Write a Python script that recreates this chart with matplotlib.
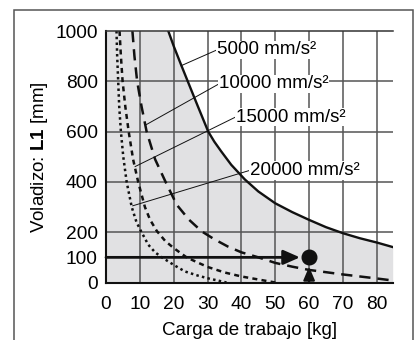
import matplotlib
matplotlib.use("Agg")
import matplotlib.pyplot as plt
from matplotlib.patches import Rectangle

plt.rcParams['font.family'] = ['Liberation Sans', 'DejaVu Sans']
plt.rcParams['mathtext.fontset'] = 'custom'
plt.rcParams['mathtext.rm'] = 'Liberation Sans'
plt.rcParams['mathtext.bf'] = 'Liberation Sans:bold'

# curves: load [kg] vs overhang L1 [mm]
x_5000 = [18.4, 20.0, 22.2, 24.0, 27.0, 30.2, 32.0, 34.0, 37.0, 41.0, 45.0, 50.0, 55.0, 60.0, 65.0, 70.0, 75.0, 80.0, 84.7]
y_5000 = [1000, 940, 865, 805, 705, 600, 560, 522, 468, 410, 362, 315, 280, 249, 220, 196, 176, 159, 141]

x_10000 = [7.8, 8.4, 9.2, 10.5, 12.0, 14.5, 17.6, 20.9, 24.5, 28.3, 32.0, 36.0, 40.0, 45.0, 50.0, 55.0, 60.0, 65.0, 70.0, 75.0, 80.0, 84.7]
y_10000 = [1000, 900, 800, 700, 600, 490, 400, 309, 250, 203, 172, 143, 120, 100, 78, 63, 50, 41, 32, 24, 16, 8]

x_15000 = [4.0, 4.4, 4.9, 5.7, 6.7, 8.0, 9.5, 11.5, 13.0, 15.0, 17.5, 20.0, 23.8, 27.0, 30.0, 35.0, 40.0, 45.0, 50.0]
y_15000 = [1000, 900, 800, 700, 600, 490, 400, 300, 250, 205, 165, 137, 100, 80, 62, 40, 24, 12, 0]

x_20000 = [3.1, 3.3, 3.6, 3.9, 4.4, 5.1, 6.1, 7.6, 9.0, 10.5, 12.5, 14.5, 16.5, 20.0, 23.3, 27.0, 30.0, 33.0, 35.6]
y_20000 = [1000, 900, 800, 700, 600, 500, 400, 300, 240, 200, 150, 120, 100, 70, 44, 28, 17, 8, 0]

labels = ['5000 mm/s²', '10000 mm/s²', '15000 mm/s²', '20000 mm/s²']
label_xy = [(32.8, 925), (33.4, 790), (38.3, 658), (42.5, 446)]
leader_from = [(22.2, 862), (11.8, 627), (8.6, 461), (7.9, 305)]

x_ticks = [0, 10, 20, 30, 40, 50, 60, 70, 80]
y_ticks = [0, 100, 200, 400, 600, 800, 1000]
x_grid = [10, 20, 30, 40, 50, 60, 70, 80]
y_grid = [200, 400, 600, 800]

point_load = 60
point_l1 = 100

fig = plt.figure(figsize=(4.2, 3.4), dpi=100)
ax = fig.add_axes([0.2524, 0.1691, 0.935 - 0.2524, 0.9088 - 0.1691])

# outer frame (bottom edge runs off the picture)
fig.patches.append(Rectangle((14 / 420, -0.2), (413 - 14) / 420, 1.2 - 10 / 340,
                             transform=fig.transFigure, fill=False,
                             edgecolor='#555555', lw=1.1))

# grey region under the 5000 curve
ax.fill_between([0] + x_5000, 0, [1000] + y_5000, color='#e1e1e3', lw=0, zorder=0)

grid_kw = dict(color='#555555', lw=1.1, zorder=1)
for gx in x_grid:
    ax.axvline(gx, **grid_kw)
for gy in y_grid:
    ax.axhline(gy, **grid_kw)

ax.plot(x_5000, y_5000, color='#111111', lw=1.7, zorder=2)
ax.plot(x_10000, y_10000, color='#111111', lw=1.8, ls=(0, (4.5, 2.8)), zorder=2)
ax.plot(x_15000, y_15000, color='#111111', lw=1.8, ls=(0, (2.0, 1.7)), zorder=2)
ax.plot(x_20000, y_20000, color='#111111', lw=1.8, ls=(0, (1, 1.3)), zorder=2)

for lab, (tx, ty), (sx, sy) in zip(labels, label_xy, leader_from):
    ax.plot([sx, tx], [sy, ty], color='#111111', lw=0.7, zorder=3)
    ax.text(tx, ty, lab, fontsize=13.5, va='center', ha='left', zorder=4,
            bbox=dict(facecolor='white', edgecolor='none', pad=0.5))

# example point with arrows
ax.annotate('', xy=(57.3, point_l1), xytext=(0, point_l1),
            arrowprops=dict(arrowstyle='-|>,head_length=0.5,head_width=0.22',
                            mutation_scale=20, lw=2.0, color='#111111',
                            shrinkA=0, shrinkB=0), zorder=5)
ax.annotate('', xy=(point_load, 63), xytext=(point_load, 0),
            arrowprops=dict(arrowstyle='-|>,head_length=0.4,head_width=0.17',
                            mutation_scale=20, lw=1.6, color='#111111',
                            shrinkA=0, shrinkB=0), zorder=5)
ax.plot([point_load], [point_l1], 'o', ms=10.5, color='#111111', zorder=6)

ax.set_xlim(0, 84.7)
ax.set_ylim(0, 1000)
ax.set_xticks(x_ticks)
ax.set_yticks(y_ticks)
ax.tick_params(length=0, labelsize=13.8)
ax.tick_params(axis='x', pad=10)
ax.tick_params(axis='y', pad=6)

ax.spines['right'].set_visible(False)
ax.spines['top'].set_color('#333333')
ax.spines['top'].set_linewidth(1.1)
for s in ['left', 'bottom']:
    ax.spines[s].set_color('#111111')
    ax.spines[s].set_linewidth(1.5)

ax.set_xlabel('Carga de trabajo [kg]', fontsize=13.5, labelpad=6)
ax.set_ylabel(r'Voladizo: $\mathbf{L1}$ [mm]', fontsize=13.5, labelpad=4)

fig.savefig('out.png', dpi=100)
